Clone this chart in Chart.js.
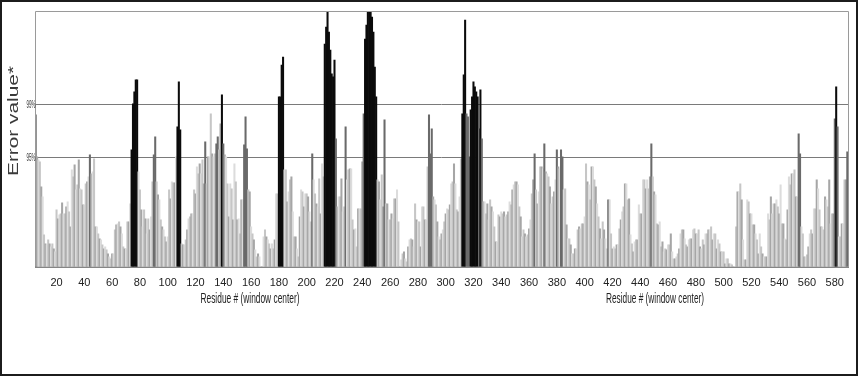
<!DOCTYPE html>
<html>
<head>
<meta charset="utf-8">
<script src="https://cdn.jsdelivr.net/npm/chart.js@4/dist/chart.umd.min.js"></script>
<style>
  html, body { margin: 0; padding: 0; background: #fff; }
  #wrap { width: 860px; height: 377px; }
</style>
</head>
<body>
<div id="wrap"><canvas id="chart" width="860" height="377"></canvas></div>
<script>
'use strict';

// first residue shown on the plot (window center)
const firstResidue = 5;

// error value per residue (arbitrary units, axis top = 256)
const errorValues = [
  152,110,107,105,80,70,32,23,22,27,      // 5
  23,20,23,18,15,57,48,52,53,64,          // 15
  53,53,60,65,55,40,97,90,102,77,         // 25
  82,107,78,77,62,62,83,85,90,112,        // 35
  93,95,108,40,40,33,28,27,22,18,         // 45
  20,17,13,10,8,13,13,37,42,43,           // 55
  45,40,33,20,18,18,45,45,63,117,         // 65
  163,175,187,187,95,77,57,40,57,48,      // 75
  33,48,37,50,85,112,130,85,72,67,        // 85
  47,40,37,30,25,30,77,68,85,84,          // 95
  84,110,140,185,137,23,22,22,27,37,      // 105
  48,50,53,53,77,73,100,93,103,93,        // 115
  107,83,125,83,110,110,153,113,110,113,  // 125
  123,130,117,143,172,123,112,110,83,50,  // 135
  83,78,47,103,85,47,48,33,67,67,         // 145
  122,150,118,77,75,40,33,27,17,10,       // 155
  13,10,0,0,30,37,30,27,23,18,            // 165
  23,18,27,73,73,170,170,202,210,97,      // 175
  97,65,75,87,90,55,30,30,18,10,          // 185
  50,77,75,60,73,73,70,55,45,113,         // 195
  87,73,63,60,88,53,103,90,223,240,       // 205
  256,235,217,193,190,207,128,60,70,70,   // 215
  88,55,60,140,87,97,98,98,47,37,         // 225
  38,20,58,58,58,105,153,228,242,257,     // 235
  257,257,250,235,200,170,87,85,67,92,    // 245
  60,147,63,63,47,47,53,48,68,68,         // 255
  77,45,0,7,13,15,8,5,20,27,              // 265
  28,27,20,63,47,45,45,20,60,60,          // 275
  47,47,100,152,113,138,70,67,62,45,      // 285
  30,27,33,37,45,53,58,57,62,83,          // 295
  85,103,83,57,55,70,108,153,192,247,     // 305
  153,150,110,157,170,185,180,175,170,138,// 315
  177,128,65,65,53,63,47,67,60,55,        // 325
  40,25,25,52,50,55,53,55,50,52,          // 335
  55,65,62,77,82,85,85,82,60,50,          // 345
  30,37,33,30,32,38,47,73,87,113,         // 355
  77,63,75,100,100,98,123,95,93,90,       // 365
  80,63,70,75,87,117,100,98,117,110,      // 375
  77,78,42,28,28,22,13,13,18,18,          // 385
  37,40,38,43,43,50,103,85,82,67,         // 395
  100,100,87,80,63,50,38,28,45,37,        // 405
  28,18,67,67,33,18,20,18,22,22,          // 415
  38,47,55,60,83,83,67,68,32,23,          // 425
  15,25,27,27,62,53,53,87,87,78,          // 435
  87,78,90,123,90,75,72,43,42,45,         // 445
  20,25,15,18,17,22,22,33,15,8,           // 455
  8,10,13,18,33,37,37,28,22,20,           // 465
  27,28,28,37,38,33,33,37,20,18,          // 475
  27,22,33,33,37,37,40,27,33,33,          // 485
  18,27,23,15,15,15,3,8,8,3,              // 495
  3,2,0,0,40,75,75,83,67,27,              // 505
  7,7,67,65,53,53,42,42,33,27,            // 515
  13,33,20,13,10,10,10,53,47,70,          // 525
  53,63,63,67,60,53,82,43,43,28,          // 535
  27,57,90,82,93,93,97,70,70,133,         // 545
  113,40,33,10,10,12,20,33,37,33,         // 555
  58,58,87,78,57,40,40,37,70,67,          // 565
  60,87,43,53,53,148,180,140,30,30,       // 575
  43,43,87,87,115                         // 585
];

// x tick labels shown under the axis
const tickLabels = [20,40,60,80,100,120,140,160,180,200,220,240,260,280,300,
  320,340,360,380,400,420,440,460,480,500,520,540,560,580];

// significance thresholds
const thresholdLabels = ['99%', '95%'];
const thresholdValues = [163, 110];

// windows drawn in black (significant stretches)
const sigStart = [74, 107, 139, 180, 213, 242, 312, 318, 325, 581];
const sigEnd   = [78, 109, 139, 183, 220, 250, 314, 323, 325, 581];

// single residues drawn in dark grey
const markedResidues = [5, 44, 90, 91, 127, 135, 136, 140, 155, 156, 157, 204, 221,
  228, 241, 256, 288, 289, 290, 315, 316, 317, 324, 326, 364, 371, 380, 383, 384,
  417, 448, 554, 555, 580, 582, 589];

const axisTitle = 'Residue # (window center)';
const yTitle = 'Error value*';

const residues = errorValues.map((v, i) => firstResidue + i);

function isSignificant(r) {
    for (let i = 0; i < sigStart.length; i++) {
        if (r >= sigStart[i] && r <= sigEnd[i]) return true;
    }
    return false;
}

const lightShades = ['#c6c6c6', '#a6a6a6', '#dcdcdc'];

function barColor(i) {
    let r = residues[i];
    if (isSignificant(r)) return '#0b0b0b';
    if (markedResidues.includes(r)) return '#6a6a6a';
    return lightShades[i % 3];
}

// draws text squeezed/stretched to a given width
function fitText(ctx, text, cx, cy, width, font, color, angle) {
    ctx.save();
    ctx.font = font;
    ctx.fillStyle = color;
    ctx.textAlign = 'center';
    ctx.textBaseline = 'middle';
    let w = ctx.measureText(text).width;
    ctx.translate(cx, cy);
    if (angle) ctx.rotate(angle);
    ctx.scale(width / w, 1);
    ctx.fillText(text, 0, 0);
    ctx.restore();
}

const decorations = {
    id: 'decorations',
    beforeDatasetsDraw(chart) {
        const ctx = chart.ctx;
        const area = chart.chartArea;
        const y = chart.scales.y;
        ctx.save();
        ctx.lineWidth = 1;
        ctx.strokeStyle = '#7a7a7a';
        for (let i = 0; i < thresholdValues.length; i++) {
            let py = Math.round(y.getPixelForValue(thresholdValues[i])) + 0.5;
            ctx.beginPath();
            ctx.moveTo(area.left, py);
            ctx.lineTo(area.right, py);
            ctx.stroke();
        }
        ctx.restore();
    },
    afterDraw(chart) {
        const ctx = chart.ctx;
        const area = chart.chartArea;
        const y = chart.scales.y;
        ctx.save();
        // plot box
        ctx.lineWidth = 1;
        ctx.strokeStyle = '#9a9a9a';
        ctx.beginPath();
        ctx.moveTo(area.left + 0.5, area.bottom);
        ctx.lineTo(area.left + 0.5, area.top + 0.5);
        ctx.lineTo(area.right + 0.5, area.top + 0.5);
        ctx.lineTo(area.right + 0.5, area.bottom);
        ctx.stroke();
        ctx.strokeStyle = '#666';
        ctx.beginPath();
        ctx.moveTo(area.left, area.bottom + 0.5);
        ctx.lineTo(area.right + 1, area.bottom + 0.5);
        ctx.stroke();
        // outer frame
        ctx.lineWidth = 2;
        ctx.strokeStyle = '#1c1c1c';
        ctx.strokeRect(1, 1, 856, 374);
        ctx.restore();

        for (let i = 0; i < thresholdLabels.length; i++) {
            let py = y.getPixelForValue(thresholdValues[i]);
            fitText(ctx, thresholdLabels[i], area.left - 4, py + 1, 9,
                '10px "Liberation Sans Narrow", "Liberation Sans"', '#333');
        }
        fitText(ctx, axisTitle, 250, 299, 99, '14px "Liberation Sans Narrow", "Liberation Sans"', '#222');
        fitText(ctx, axisTitle, 655, 299, 98, '14px "Liberation Sans Narrow", "Liberation Sans"', '#222');
        fitText(ctx, yTitle, 14, 121, 110, '15px "Liberation Sans", Arial', '#3a3a3a', -Math.PI / 2);
    }
};

new Chart(document.getElementById('chart'), {
    type: 'bar',
    data: {
        labels: residues,
        datasets: [{
            data: errorValues,
            backgroundColor: ctx => barColor(ctx.dataIndex),
            borderWidth: 0,
            barPercentage: 1,
            categoryPercentage: 1
        }]
    },
    options: {
        responsive: false,
        animation: false,
        devicePixelRatio: 1,
        layout: { padding: { left: 35, right: 12, top: 11, bottom: 77 } },
        plugins: {
            legend: { display: false },
            tooltip: { enabled: false }
        },
        scales: {
            x: {
                offset: true,
                grid: { display: false, drawTicks: false },
                border: { display: false },
                ticks: {
                    autoSkip: false,
                    maxRotation: 0,
                    padding: 10,
                    color: '#222',
                    font: { family: '"Liberation Sans Narrow", "Liberation Sans"', size: 11 },
                    callback: function (val, idx) {
                        let r = residues[idx];
                        return tickLabels.includes(r) ? String(r) : '';
                    }
                }
            },
            y: { display: false, min: 0, max: 256 }
        }
    },
    plugins: [decorations]
});
</script>
</body>
</html>
